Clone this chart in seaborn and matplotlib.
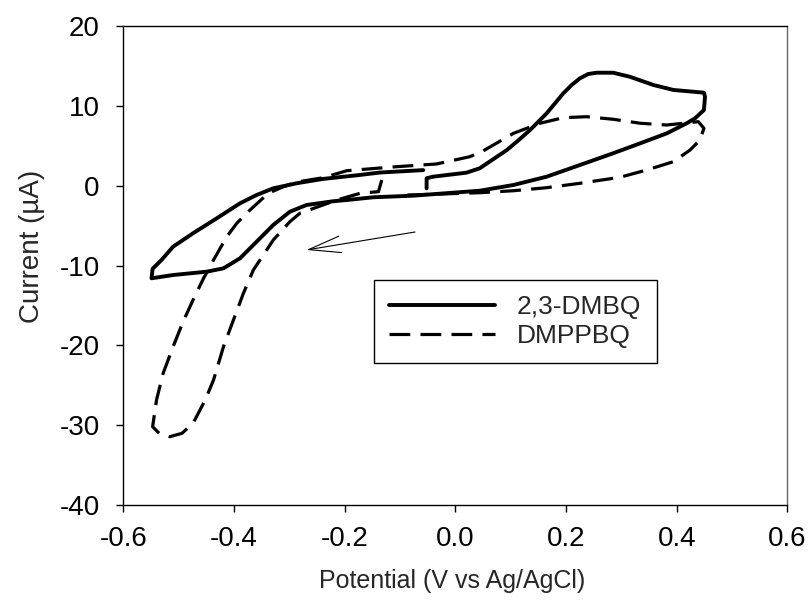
import matplotlib
matplotlib.use("Agg")
import matplotlib.pyplot as plt
import seaborn as sns
import pandas as pd
import numpy as np

# cyclic voltammograms, potential (V vs Ag/AgCl) and current (uA), in scan order
dmbq_v = [-0.052, -0.052, -0.040, 0.020, 0.044, 0.068, 0.093, 0.111, 0.135, 0.150,
          0.165, 0.180, 0.195, 0.210, 0.225, 0.240, 0.255, 0.285, 0.315, 0.358,
          0.394, 0.430, 0.449, 0.451, 0.449, 0.433, 0.418,
          0.382, 0.334, 0.285, 0.225, 0.165, 0.105, 0.044, -0.076, -0.148, -0.196,
          -0.221, -0.269, -0.299, -0.329, -0.359, -0.389, -0.419, -0.449, -0.510,
          -0.549, -0.547, -0.531, -0.510, -0.474, -0.431, -0.389, -0.359, -0.329,
          -0.287, -0.239, -0.178, -0.136, -0.058]
dmbq_i = [-0.33, 0.93, 1.13, 1.63, 2.18, 3.30, 4.47, 5.51, 6.98, 8.02,
          9.07, 10.32, 11.57, 12.61, 13.45, 13.99, 14.15, 14.15, 13.65, 12.61,
          11.99, 11.77, 11.65, 11.15, 9.48, 8.44, 7.82,
          6.56, 5.31, 4.06, 2.59, 1.13, 0.09, -0.63, -1.25, -1.45, -1.79,
          -1.95, -2.42, -3.26, -4.92, -7.01, -9.09, -10.35, -10.77, -11.19,
          -11.6, -10.4, -9.31, -7.64, -5.96, -4.08, -2.20, -1.16, -0.33,
          0.30, 0.85, 1.30, 1.65, 1.95]

dmppbq_v = [-0.133, -0.139, -0.172, -0.214, -0.281, -0.299, -0.329, -0.353, -0.365,
            -0.383, -0.401, -0.419, -0.437, -0.452, -0.474, -0.494, -0.516, -0.534,
            -0.547, -0.540, -0.528, -0.510, -0.492, -0.474, -0.455, -0.437, -0.413,
            -0.395, -0.371, -0.338, -0.311, -0.287, -0.239, -0.196, -0.106, -0.034,
            0.026, 0.050, 0.105, 0.153, 0.195, 0.237, 0.285, 0.334, 0.382, 0.439,
            0.449, 0.442, 0.424, 0.394, 0.346, 0.297, 0.225, 0.165, 0.105, 0.044,
            -0.030, -0.100]
dmppbq_i = [0.71, -0.75, -0.95, -1.79, -3.46, -4.51, -6.80, -9.31, -10.56,
            -13.48, -16.82, -20.17, -24.34, -26.85, -29.76, -31.02, -31.44, -31.10,
            -30.19, -26.85, -23.50, -20.17, -17.04, -14.32, -11.60, -9.31, -6.39,
            -4.71, -3.04, -0.95, -0.13, 0.45, 1.00, 1.88, 2.38, 2.72,
            3.63, 4.35, 6.56, 7.82, 8.52, 8.64, 8.32, 7.82, 7.60, 8.02,
            7.19, 5.72, 4.47, 3.01, 1.97, 1.05, 0.30, -0.25, -0.63, -0.88,
            -1.05, -1.20]

labels = ["2,3-DMBQ", "DMPPBQ"]

sns.set_style("ticks")
plt.rcParams["font.family"] = ["Liberation Sans", "DejaVu Sans"]
plt.rcParams["axes.unicode_minus"] = False

fig = plt.figure(figsize=(8.09, 6.01), dpi=100)
ax = fig.add_axes([0.1524, 0.1597, 0.8210, 0.7970])

df1 = pd.DataFrame({"v": dmbq_v, "i": dmbq_i})
df2 = pd.DataFrame({"v": dmppbq_v, "i": dmppbq_i})
sns.lineplot(data=df1, x="v", y="i", sort=False, estimator=None, color="black",
             lw=2.8, ax=ax, label=labels[0])
sns.lineplot(data=df2, x="v", y="i", sort=False, estimator=None, color="black",
             lw=2.3, ax=ax, label=labels[1])
for ln in ax.lines:
    ln.set_solid_joinstyle("round")
    ln.set_dash_joinstyle("round")
ax.lines[1].set_dashes((6.5, 3.2))

# scan direction arrow
ax.annotate("", xy=(-0.269, -8.05), xytext=(-0.073, -5.8),
            arrowprops=dict(arrowstyle="->,head_length=2.3,head_width=0.6",
                            mutation_scale=10, color="black", lw=0.8,
                            shrinkA=0, shrinkB=0))

ax.set_xlim(-0.6, 0.6)
ax.set_ylim(-40, 20)
ax.set_xticks(np.arange(-0.6, 0.61, 0.2))
ax.set_xticklabels(["%.1f" % t for t in np.arange(-0.6, 0.61, 0.2)])
ax.set_yticks(range(-40, 21, 10))
ax.tick_params(direction="out", length=5, width=1, labelsize=20, colors="black")
ax.tick_params(axis="x", pad=10)
ax.tick_params(axis="y", pad=12)
ax.set_xlabel("Potential (V vs Ag/AgCl)", fontsize=18)
ax.set_ylabel("Current (\u00b5A)", fontsize=20)
ax.xaxis.set_label_coords(0.4956, -0.134)
ax.yaxis.set_label_coords(-0.118, 0.539)
for s in ax.spines.values():
    s.set_color("black")
    s.set_linewidth(1)
ax.spines["right"].set_color("#666666")

leg = ax.legend(loc="center", bbox_to_anchor=(0.3775, 0.290, 0.426, 0.186),
                mode="expand", borderaxespad=0, fontsize=19, handlelength=4.05,
                handletextpad=0.8, borderpad=0.55, labelspacing=0.2,
                fancybox=False, framealpha=1, edgecolor="black")
leg.get_frame().set_linewidth(1)

fig.savefig("out.png", dpi=100)
